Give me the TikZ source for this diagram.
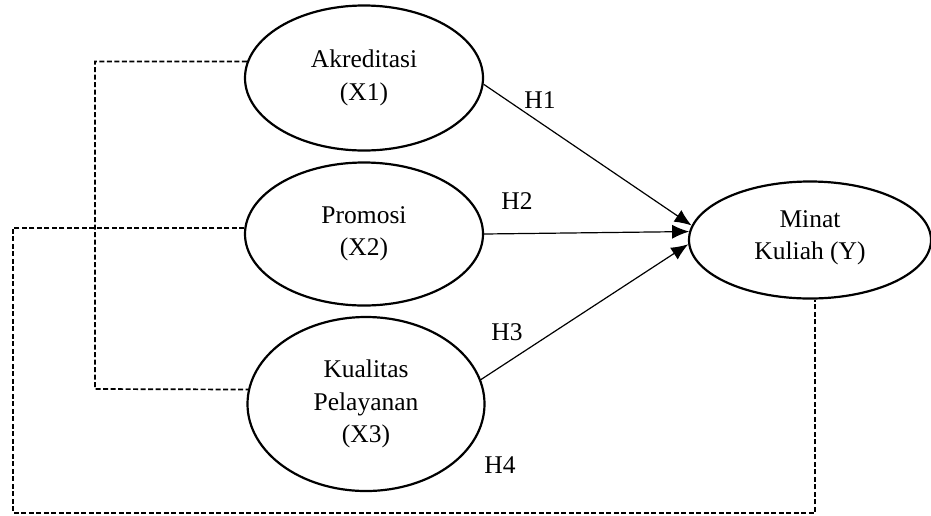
\documentclass[tikz,border=0pt]{standalone}
\usepackage{fontspec}
\setmainfont{Liberation Serif}
\usepackage{tikz}
\usetikzlibrary{
  arrows.meta,
  shapes.geometric,
  calc
}
\tikzset{
  latent/.style = {ellipse, draw, line width = 2.2pt, inner sep = 0pt, align = center,
                   font = \fontsize{25.5}{32.5}\selectfont},
  hyp/.style    = {line width = 1.2pt, -{Latex[length = 17pt, width = 14pt]}},
  link/.style   = {line width = 1.7pt, dash pattern = on 5pt off 2.5pt},
  hlabel/.style = {inner sep = 0pt, font = \fontsize{25.5}{32.5}\selectfont}
}

\begin{document}
\begin{tikzpicture}[x = 1pt, y = -1pt]
  \useasboundingbox (0, 0) rectangle (931, 515);

  % Variables
  \node [latent, minimum width = 238pt, minimum height = 145pt] (x1) at (364,  78) {Akreditasi\\(X1)};
  \node [latent, minimum width = 238pt, minimum height = 143pt] (x2) at (364, 234) {Promosi\\(X2)};
  \node [latent, minimum width = 237pt, minimum height = 174pt] (x3) at (366, 404) {Kualitas\\Pelayanan\\(X3)};
  \node [latent, minimum width = 242pt, minimum height = 117pt, text depth = 10pt] (y) at (810, 240) {Minat\\Kuliah (Y)};

  % Hypotheses
  \draw [hyp] (x1.357) -- (y.173);
  \draw [hyp] (x2.east) -- (y.176);
  \draw [hyp] (x3.12)  -- (y.182);

  \node [hlabel] (h1) at (540, 100) {H1};
  \node [hlabel] (h2) at (517, 201) {H2};
  \node [hlabel] (h3) at (507, 332) {H3};
  \node [hlabel] (h4) at (500, 465) {H4};

  % Dashed links
  \coordinate (l1) at (95, 389);
  \coordinate (l2) at (13, 513);
  \draw [link] (x1.172) -| (l1) -- (x3.173);
  \draw [link] (x2.177) -| (l2) -- (l2 -| y.275) -- (y.275);
\end{tikzpicture}
\end{document}
